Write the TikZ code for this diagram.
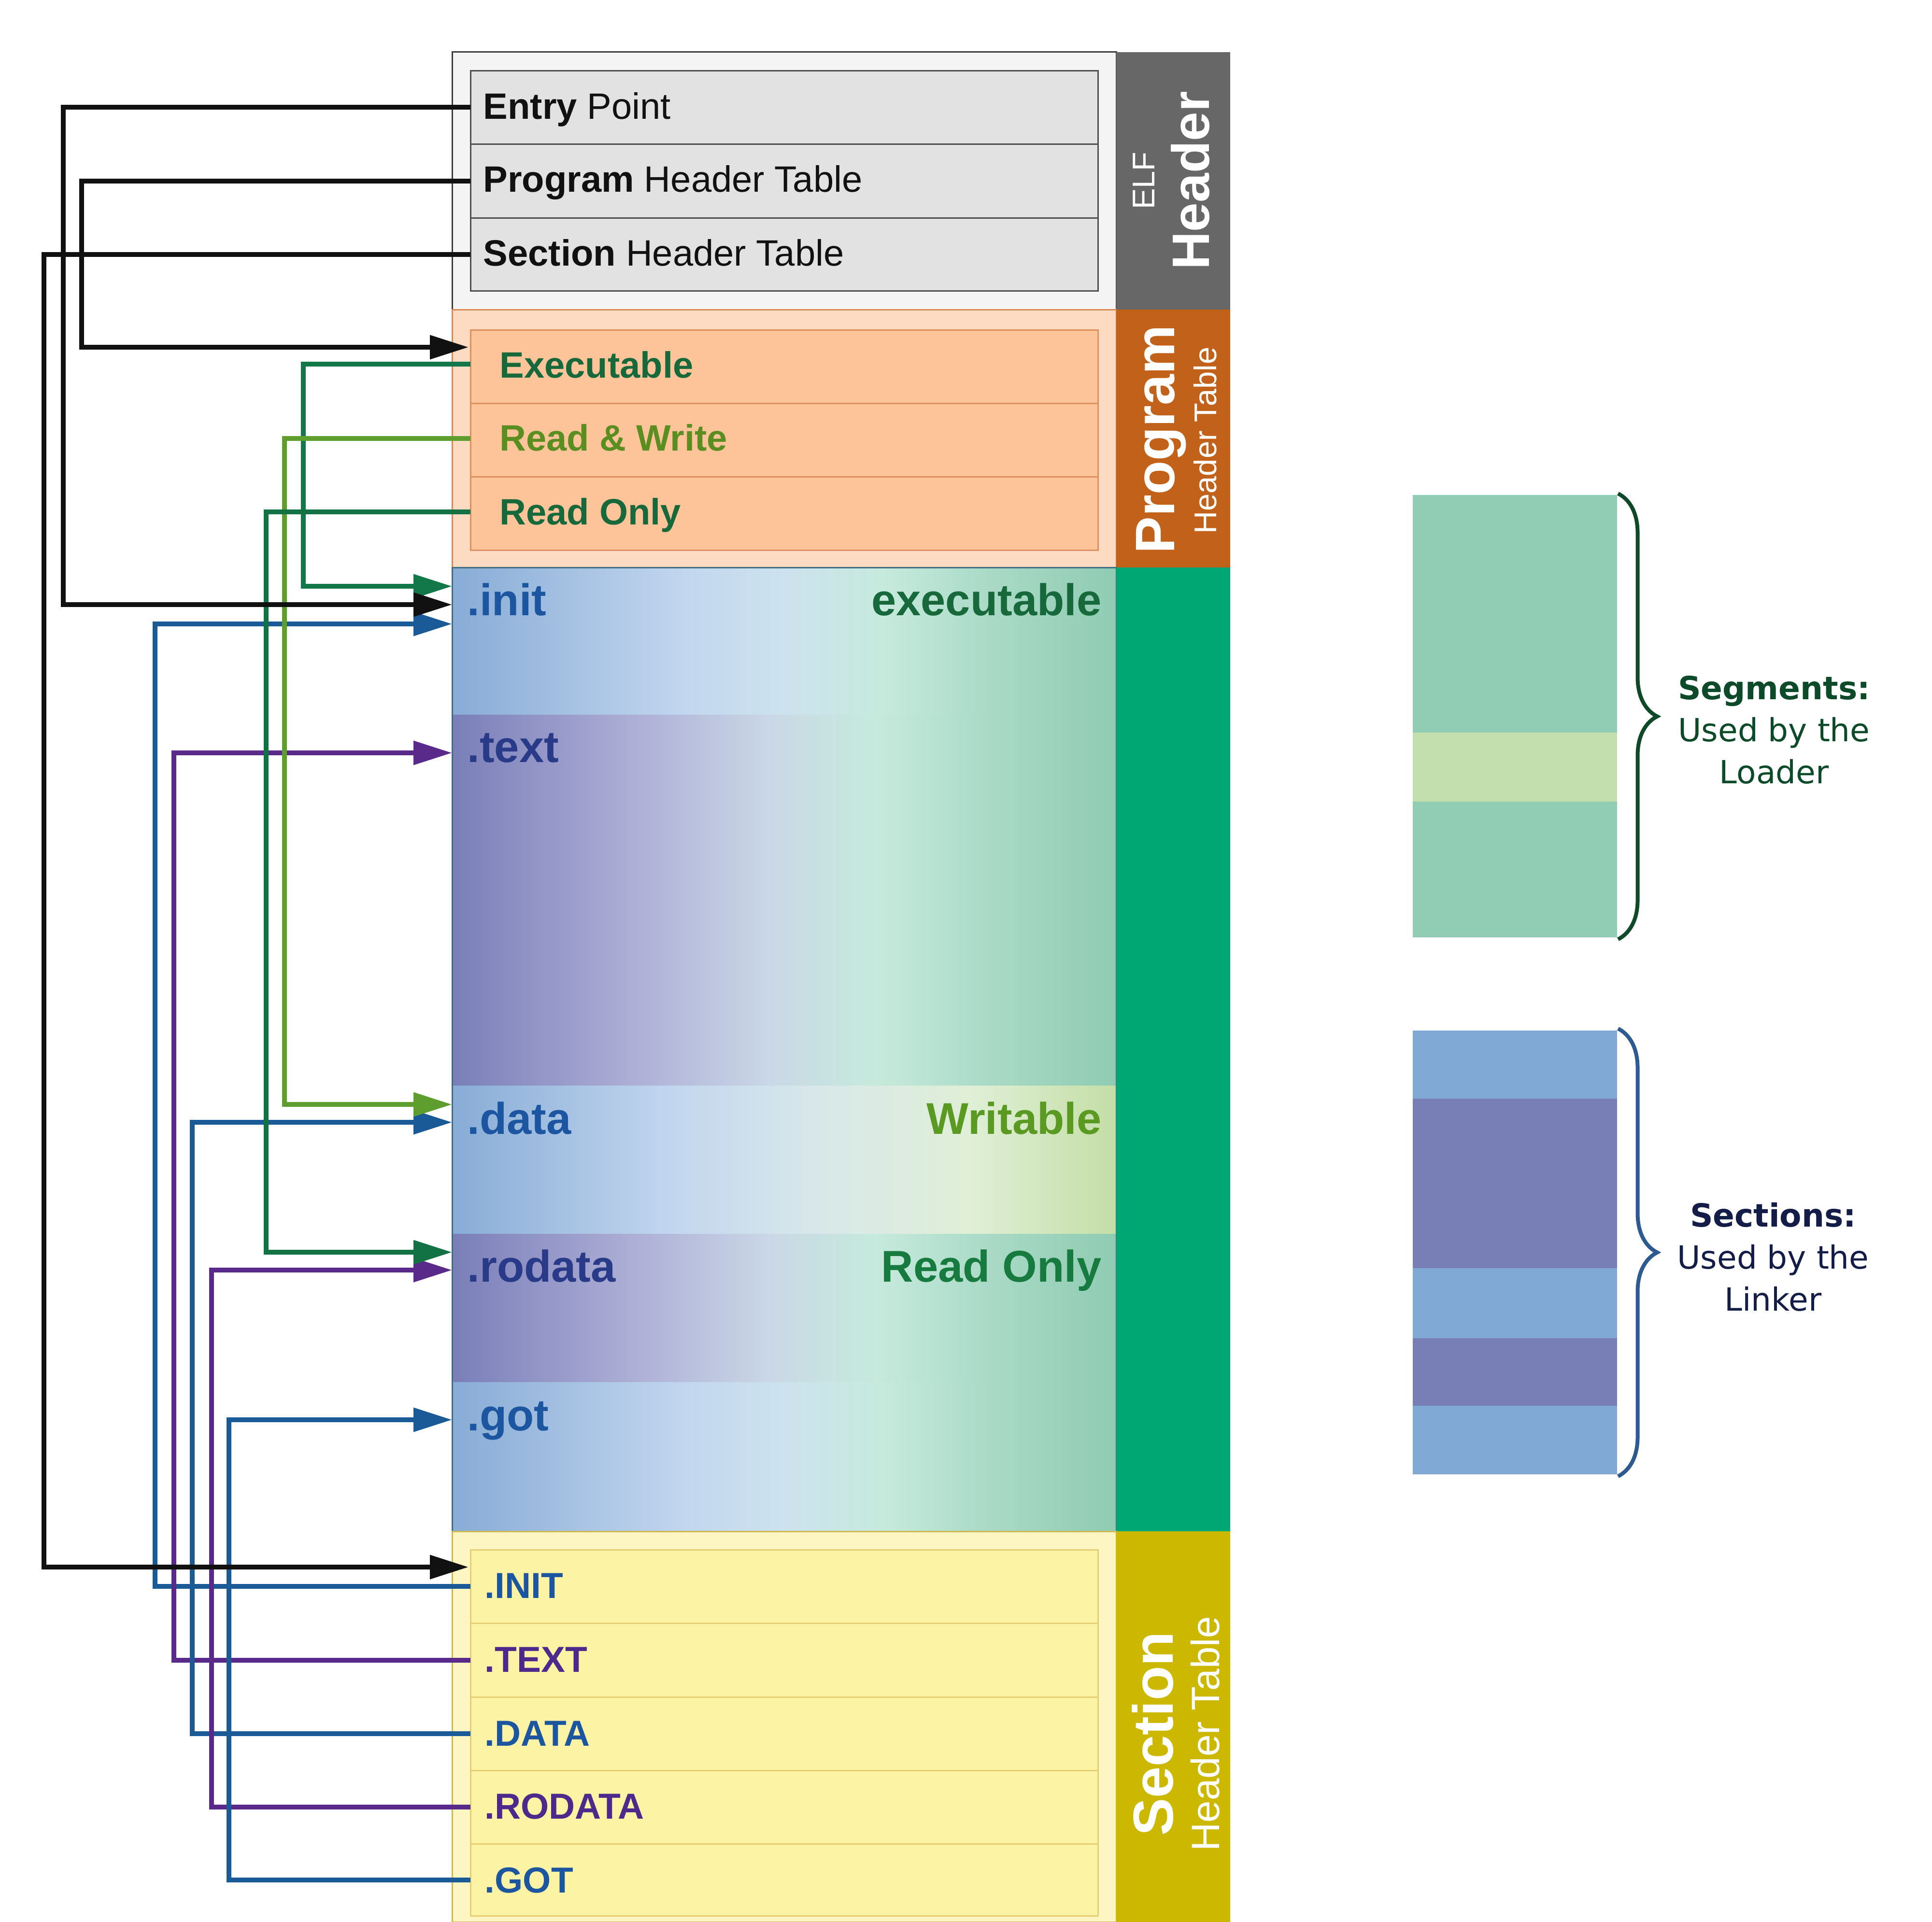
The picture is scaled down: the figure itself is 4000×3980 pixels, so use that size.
\documentclass[tikz,border=0pt]{standalone}
\usepackage{fontspec}
\setmainfont{Liberation Sans}
\newfontfamily\dvs{DejaVu Sans}
\usetikzlibrary{arrows.meta,fit,calc,decorations.pathreplacing}

\definecolor{elfOut}{HTML}{F4F4F4}
\definecolor{elfLine}{HTML}{3C3C3C}
\definecolor{elfRow}{HTML}{E2E2E2}
\definecolor{elfRowLine}{HTML}{4E4E4E}
\definecolor{elfSide}{HTML}{676767}
\definecolor{prgOut}{HTML}{FDDBC3}
\definecolor{prgLine}{HTML}{D98A55}
\definecolor{prgRow}{HTML}{FDC49A}
\definecolor{prgRowLine}{HTML}{E0905E}
\definecolor{prgSide}{HTML}{C2621A}
\definecolor{segSide}{HTML}{01A772}
\definecolor{segLine}{HTML}{3F6F80}
\definecolor{secOut}{HTML}{FDF6C2}
\definecolor{secLine}{HTML}{CDB955}
\definecolor{secRow}{HTML}{FDF3A4}
\definecolor{secRowLine}{HTML}{E6CF75}
\definecolor{secSide}{HTML}{CCB800}

\definecolor{sbA}{HTML}{88ACD6}
\definecolor{sbB}{HTML}{C2D6EE}
\definecolor{sbC}{HTML}{CDE2EE}
\definecolor{sbD}{HTML}{C6EADC}
\definecolor{sbE}{HTML}{A8D9C5}
\definecolor{sbF}{HTML}{8FCBB3}
\definecolor{spA}{HTML}{7A7EB8}
\definecolor{spB}{HTML}{AEB0D6}
\definecolor{spC}{HTML}{CAD8E6}
\definecolor{sdC}{HTML}{D8E8EA}
\definecolor{sdD}{HTML}{E0EFD6}
\definecolor{sdF}{HTML}{C4DEA6}

% visible part of a TikZ shading is 25bp..75bp
\pgfdeclarehorizontalshading{segblue}{100bp}{color(0bp)=(sbA); color(25bp)=(sbA); color(42.5bp)=(sbB); color(50bp)=(sbC); color(57.5bp)=(sbD); color(66bp)=(sbE); color(75bp)=(sbF); color(100bp)=(sbF)}
\pgfdeclarehorizontalshading{segpurple}{100bp}{color(0bp)=(spA); color(25bp)=(spA); color(39bp)=(spB); color(49bp)=(spC); color(57bp)=(sbD); color(66bp)=(sbE); color(75bp)=(sbF); color(100bp)=(sbF)}
\pgfdeclarehorizontalshading{segdata}{100bp}{color(0bp)=(sbA); color(25bp)=(sbA); color(41.5bp)=(sbB); color(52.5bp)=(sdC); color(64bp)=(sdD); color(75bp)=(sdF); color(100bp)=(sdF)}

\definecolor{tExec}{HTML}{17683A}
\definecolor{tRW}{HTML}{5B8E20}
\definecolor{tBlue}{HTML}{1D56A0}
\definecolor{tNavy}{HTML}{283A88}
\definecolor{tPurp}{HTML}{4B2A8C}
\definecolor{tWrit}{HTML}{5A9A22}
\definecolor{tRO}{HTML}{177A3E}

\definecolor{cBlk}{HTML}{111111}
\definecolor{cExec}{HTML}{12784A}
\definecolor{cRW}{HTML}{5E9E2E}
\definecolor{cRO}{HTML}{137244}
\definecolor{cBlue}{HTML}{1A5A96}
\definecolor{cPurp}{HTML}{5A2A8A}

\definecolor{segR1}{HTML}{90CDB4}
\definecolor{segR2}{HTML}{C3DFAD}
\definecolor{segTxt}{HTML}{0D4A2A}
\definecolor{segBr}{HTML}{0E4A28}
\definecolor{secR1}{HTML}{80A9D6}
\definecolor{secR2}{HTML}{787FB6}
\definecolor{secTxt}{HTML}{141C48}
\definecolor{secBr}{HTML}{2D5A90}

\tikzset{
  box/.style={inner sep=0pt, outer sep=0pt},
  elfouter/.style={box, fill=elfOut, draw=elfLine, line width=0.3mm},
  elfrow/.style={box, fill=elfRow, draw=elfRowLine, line width=0.3mm},
  prgouter/.style={box, fill=prgOut, draw=prgLine, line width=0.3mm},
  prgrow/.style={box, fill=prgRow, draw=prgRowLine, line width=0.3mm},
  secouter/.style={box, fill=secOut, draw=secLine, line width=0.3mm},
  secrow/.style={box, fill=secRow, draw=secRowLine, line width=0.3mm},
  segrow/.style={box},
  sidebar/.style={box},
  lbl/.style={inner sep=0pt, font=\fontsize{21.6}{26}\selectfont},
  seglbl/.style={inner sep=0pt, font=\bfseries\fontsize{26.2}{31}\selectfont},
  seclbl/.style={inner sep=0pt, font=\bfseries\fontsize{21.3}{26}\selectfont},
  sidetxt/.style={inner sep=0pt, rotate=90, anchor=base, text=white},
  rtext/.style={inner sep=0pt, align=center, font=\dvs\fontsize{18.8}{24.75}\selectfont},
  conn/.style={line width=1mm, line join=miter, -{Triangle[length=8mm,width=4.8mm]}},
  brc/.style={line width=0.8mm, decorate, decoration={brace, amplitude=8.1mm}},
}

\begin{document}
\begin{tikzpicture}[x=0.1mm,y=-0.1mm]
\useasboundingbox (0,0) rectangle (4000,3980);

% ---------- ELF header ----------
\node[elfouter, fit={(936,108) (2311,641)}] (elfbox) {};
\node[elfrow, fit={(974,147) (2273,298)}] (entry) {};
\node[elfrow, fit={(974,298) (2273,451)}] (pht) {};
\node[elfrow, fit={(974,451) (2273,602)}] (sht) {};
\node[sidebar, fill=elfSide, fit={(2311,108) (2547,641)}] (elfside) {};
\node[lbl, anchor=base west, text=cBlk] (entryT) at (1000,247) {\textbf{Entry} Point};
\node[lbl, anchor=base west, text=cBlk] (phtT) at (1000,397) {\textbf{Program} Header Table};
\node[lbl, anchor=base west, text=cBlk] (shtT) at (1000,550) {\textbf{Section} Header Table};
\node[sidetxt, font=\fontsize{18.5}{22}\selectfont] (elfT) at (2390,374) {ELF};
\node[sidetxt, font=\bfseries\fontsize{31}{36}\selectfont] (elfH) at (2503,374) {Header};

% ---------- Program header table ----------
\node[prgouter, fit={(936,641) (2311,1175)}] (prgbox) {};
\node[prgrow, fit={(974,683) (2273,835)}] (exec) {};
\node[prgrow, fit={(974,835) (2273,987)}] (rw) {};
\node[prgrow, fit={(974,987) (2273,1139)}] (ro) {};
\node[sidebar, fill=prgSide, fit={(2311,641) (2547,1175)}] (prgside) {};
\node[lbl, anchor=base west, text=tExec, font=\bfseries\fontsize{21.6}{26}\selectfont] (execT) at (1034,782) {Executable};
\node[lbl, anchor=base west, text=tRW, font=\bfseries\fontsize{21.6}{26}\selectfont] (rwT) at (1034,933) {Read \& Write};
\node[lbl, anchor=base west, text=tExec, font=\bfseries\fontsize{21.6}{26}\selectfont] (roT) at (1034,1086) {Read Only};
\node[sidetxt, font=\bfseries\fontsize{32.7}{38}\selectfont] (prgP) at (2431,910) {Program};
\node[sidetxt, font=\fontsize{18.5}{22}\selectfont] (prgH) at (2518,912) {Header Table};

% ---------- Segments / sections ----------
\node[segrow, shade, shading=segblue, fit={(936,1175) (2311,1480)}] (init) {};
\node[segrow, shade, shading=segpurple, fit={(936,1480) (2311,2248)}] (text) {};
\node[segrow, shade, shading=segdata, fit={(936,2248) (2311,2555)}] (data) {};
\node[segrow, shade, shading=segpurple, fit={(936,2555) (2311,2862)}] (rodata) {};
\node[segrow, shade, shading=segblue, fit={(936,2862) (2311,3171)}] (got) {};
\node[box, draw=segLine, line width=0.3mm, fit={(936,1175) (2311,3171)}] (segframe) {};
\node[sidebar, fill=segSide, fit={(2311,1175) (2547,3171)}] (segside) {};
\node[seglbl, anchor=base west, text=tBlue] (initT) at (967,1274) {.init};
\node[seglbl, anchor=base east, text=tExec] (execL) at (2281,1274) {executable};
\node[seglbl, anchor=base west, text=tNavy] (textT) at (967,1578) {.text};
\node[seglbl, anchor=base west, text=tBlue] (dataT) at (967,2348) {.data};
\node[seglbl, anchor=base east, text=tWrit] (writL) at (2281,2348) {Writable};
\node[seglbl, anchor=base west, text=tNavy] (rodataT) at (967,2654) {.rodata};
\node[seglbl, anchor=base east, text=tRO] (roL) at (2281,2654) {Read Only};
\node[seglbl, anchor=base west, text=tBlue] (gotT) at (967,2962) {.got};

% ---------- Section header table ----------
\node[secouter, fit={(936,3171) (2311,3980)}] (secbox) {};
\node[secrow, fit={(974,3209) (2273,3361)}] (sinit) {};
\node[secrow, fit={(974,3361) (2273,3514)}] (stext) {};
\node[secrow, fit={(974,3514) (2273,3666)}] (sdata) {};
\node[secrow, fit={(974,3666) (2273,3818)}] (srodata) {};
\node[secrow, fit={(974,3818) (2273,3967)}] (sgot) {};
\node[sidebar, fill=secSide, fit={(2311,3171) (2547,3980)}] (secside) {};
\node[seclbl, anchor=base west, text=tBlue] (sinitT) at (1003,3309) {.INIT};
\node[seclbl, anchor=base west, text=tPurp] (stextT) at (1003,3462) {.TEXT};
\node[seclbl, anchor=base west, text=tBlue] (sdataT) at (1003,3615) {.DATA};
\node[seclbl, anchor=base west, text=tPurp] (srodataT) at (1003,3766) {.RODATA};
\node[seclbl, anchor=base west, text=tBlue] (sgotT) at (1003,3919) {.GOT};
\node[sidetxt, font=\bfseries\fontsize{33.3}{38}\selectfont] (secS) at (2428,3590) {Section};
\node[sidetxt, font=\fontsize{23.3}{28}\selectfont] (secH) at (2524,3590) {Header Table};

% ---------- connectors ----------
\draw[conn, cBlue] (sinit.west) -- ++(-653,0) |- ($(init.north west)+(0,117)$);
\draw[conn, cPurp] (stext.west) -- ++(-614,0) |- ($(text.north west)+(0,79)$);
\draw[conn, cBlue] (sdata.west) -- ++(-576,0) |- ($(data.north west)+(0,76)$);
\draw[conn, cPurp] (srodata.west) -- ++(-536,0) |- ($(rodata.north west)+(0,75)$);
\draw[conn, cBlue] (sgot.west) -- ++(-500,0) |- ($(got.north west)+(0,78)$);

\draw[conn, cExec] ([yshift=0.5mm]exec.west) -- ++(-346,0) |- ($(init.north west)+(0,39)$);
\draw[conn, cRW] ([yshift=0.3mm]rw.west) -- ++(-385,0) |- ($(data.north west)+(0,39)$);
\draw[conn, cRO] ([yshift=0.3mm]ro.west) -- ++(-423,0) |- ($(rodata.north west)+(0,38)$);

\draw[conn, cBlk] (entry.west) -- ++(-843,0) |- ($(init.north west)+(0,77)$);
\draw[conn, cBlk] (pht.west) -- ++(-805,0) |- ($(exec.north west)+(-4,36)$);
\draw[conn, cBlk] (sht.west) -- ++(-883,0) |- ($(sinit.north west)+(-4,36)$);

% ---------- right legend ----------
\node[box, fill=segR1, fit={(2925,1025) (3348,1941)}] (segR) {};
\node[box, fill=segR2, fit={(2925,1517) (3348,1660)}] (segBand) {};
\draw[brc, segBr] ($(segR.north east)+(2,-3)$) -- ($(segR.south east)+(2,4)$);
\node[rtext, text=segTxt] (segT) at (3673,1511) {\textbf{Segments:}\\Used by the\\Loader};

\node[box, fill=secR1, fit={(2925,2134) (3348,3053)}] (secR) {};
\node[box, fill=secR2, fit={(2925,2275) (3348,2626)}] (secBand1) {};
\node[box, fill=secR2, fit={(2925,2771) (3348,2911)}] (secBand2) {};
\draw[brc, secBr] ($(secR.north east)+(2,-4)$) -- ($(secR.south east)+(2,4)$);
\node[rtext, text=secTxt] (secT) at (3671,2603) {\textbf{Sections:}\\Used by the\\Linker};
\end{tikzpicture}
\end{document}
